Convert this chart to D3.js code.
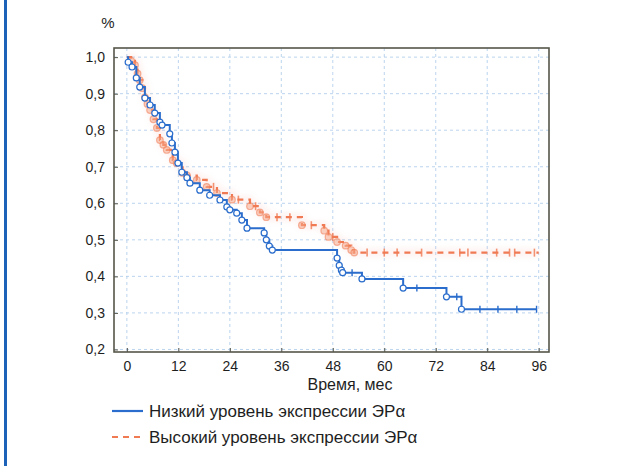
<!DOCTYPE html>
<html>
<head>
<meta charset="utf-8">
<script src="https://cdn.jsdelivr.net/npm/d3@7"></script>
<style>
  body { margin: 0; background: #fff; }
  svg { display: block; font-family: "Liberation Sans", Arial, sans-serif; }
</style>
</head>
<body>
<div id="canvas"></div>
<script>
// survival curves: [month, survival after the step]
let lowSteps = [
  [0, 1.0], [0.3, 0.986], [1.2, 0.973], [2.2, 0.943], [3, 0.918], [4.2, 0.888],
  [5.4, 0.869], [6.5, 0.847], [7.7, 0.822], [8.2, 0.814], [10, 0.79], [10.5, 0.765],
  [11.2, 0.74], [11.9, 0.71], [12.8, 0.685], [14, 0.67], [14.7, 0.655], [17, 0.636],
  [19.3, 0.622], [21.7, 0.609], [23.3, 0.59], [24, 0.582], [25.6, 0.573], [26.8, 0.554],
  [28, 0.532], [32, 0.519], [32.5, 0.5], [33.2, 0.483], [33.9, 0.472], [49, 0.45],
  [49.5, 0.43], [50, 0.417], [50.3, 0.41], [54.8, 0.393], [64.4, 0.368], [74.5, 0.344],
  [78, 0.31]
]
let lowCensored = [52.5, 67.6, 76.9, 82.3, 86.5, 90.9, 95.5]
let lowEnd = 95.5

let highSteps = [
  [0, 1.0], [1, 0.99], [1.9, 0.978], [2.5, 0.955], [3, 0.937], [3.6, 0.915],
  [4.2, 0.89], [4.8, 0.872], [5.4, 0.855], [6.2, 0.83], [7, 0.806], [7.7, 0.773],
  [8.5, 0.76], [9.3, 0.746], [10.7, 0.718], [11.6, 0.71], [13, 0.683], [14, 0.676],
  [16.3, 0.664], [18.6, 0.645], [21, 0.628], [24.5, 0.61], [28.7, 0.592], [31, 0.575],
  [32.5, 0.562], [40.8, 0.54], [46, 0.525], [47, 0.508], [49, 0.494], [51, 0.484],
  [52.3, 0.472], [53, 0.465]
]
let highCensored = [20.2, 26, 30, 35, 38, 43, 48, 56, 60, 63, 68.7, 77.6, 79.5, 86.2, 89.2, 90.4, 95]
let highEnd = 96

let xTicks = [0, 12, 24, 36, 48, 60, 72, 84, 96]
let yTicks = [0.2, 0.3, 0.4, 0.5, 0.6, 0.7, 0.8, 0.9, 1.0]
let xTitle = "Время, мес"
let yUnit = "%"
let legendLabels = ["Низкий уровень экспрессии ЭРα", "Высокий уровень экспрессии ЭРα"]

let svg = {}
let x, y

let blue = "#2a6dcc"
let orange = "#f07a52"
let ink = "#1e1e1e"

window.onload = function () { setup() }

function setup() {
  setupSVGCanvas()
  setupScales()
  drawGrid()
  drawCurve(highSteps, highEnd, highCensored, "high")
  drawCurve(lowSteps, lowEnd, lowCensored, "low")
  drawFrame()
  drawAxes()
  drawLegend()
}

function setupSVGCanvas() {
  svg = d3.select("#canvas")
    .append("svg")
    .attr("width", 633)
    .attr("height", 466)

  let defs = svg.append("defs")
  defs.append("filter").attr("id", "soft")
    .append("feGaussianBlur").attr("stdDeviation", 0.6)
  defs.append("filter").attr("id", "halo")
    .attr("x", "-20%").attr("y", "-20%").attr("width", "140%").attr("height", "140%")
    .append("feGaussianBlur").attr("stdDeviation", 3)

  // page border on the left
  svg.append("line")
    .attr("x1", 5.5).attr("x2", 5.5)
    .attr("y1", 0).attr("y2", 466)
    .attr("stroke", "#1b62b8")
    .attr("stroke-width", 3)
}

function setupScales() {
  x = d3.scaleLinear().domain([-3, 98.4]).range([114, 549])
  y = d3.scaleLinear().domain([0.193, 1.025]).range([352, 48])
}

function drawGrid() {
  let grid = svg.append("g")
    .attr("stroke", "#a9c9ea")
    .attr("stroke-width", 0.8)
    .attr("stroke-dasharray", "3,3")

  grid.selectAll(".gx")
    .data(xTicks)
    .join("line")
    .attr("x1", d => x(d)).attr("x2", d => x(d))
    .attr("y1", y.range()[1]).attr("y2", y.range()[0])

  grid.selectAll(".gy")
    .data(yTicks)
    .join("line")
    .attr("x1", x.range()[0]).attr("x2", x.range()[1])
    .attr("y1", d => y(d)).attr("y2", d => y(d))
}

function valueAt(steps, t) {
  let v = steps[0][1]
  steps.forEach(s => { if (s[0] <= t) v = s[1] })
  return v
}

function drawCurve(steps, end, censored, kind) {
  let pts = steps.concat([[end, steps[steps.length - 1][1]]])
  let line = d3.line()
    .x(d => x(d[0]))
    .y(d => y(d[1]))
    .curve(d3.curveStepAfter)

  let events = steps.slice(1)
  let g = svg.append("g")

  if (kind == "low") {
    g.append("path")
      .attr("d", line(pts))
      .attr("fill", "none")
      .attr("stroke", blue)
      .attr("stroke-width", 2)

    g.selectAll(".cens")
      .data(censored)
      .join("line")
      .attr("x1", d => x(d)).attr("x2", d => x(d))
      .attr("y1", d => y(valueAt(steps, d)) - 3.5)
      .attr("y2", d => y(valueAt(steps, d)) + 3.5)
      .attr("stroke", blue)
      .attr("stroke-width", 1.4)

    g.selectAll("circle")
      .data(events)
      .join("circle")
      .attr("cx", d => x(d[0]))
      .attr("cy", d => y(d[1]))
      .attr("r", 3)
      .attr("fill", "#fff")
      .attr("stroke", blue)
      .attr("stroke-width", 1.2)
  } else {
    // faint pink haze round the dashed curve
    let halo = g.append("g").attr("filter", "url(#halo)").attr("opacity", 0.14)
    halo.append("path")
      .attr("d", line(pts))
      .attr("fill", "none")
      .attr("stroke", "#f39a90")
      .attr("stroke-width", 7)

    let sharp = g.append("g").attr("filter", "url(#soft)")
    sharp.append("path")
      .attr("d", line(pts))
      .attr("fill", "none")
      .attr("stroke", orange)
      .attr("stroke-width", 2.2)
      .attr("stroke-dasharray", "6,5")

    sharp.selectAll(".cens")
      .data(censored)
      .join("line")
      .attr("x1", d => x(d)).attr("x2", d => x(d))
      .attr("y1", d => y(valueAt(steps, d)) - 4)
      .attr("y2", d => y(valueAt(steps, d)) + 4)
      .attr("stroke", orange)
      .attr("stroke-width", 1.6)
      .attr("opacity", 0.8)

    sharp.selectAll("circle")
      .data(events)
      .join("circle")
      .attr("cx", d => x(d[0]))
      .attr("cy", d => y(d[1]))
      .attr("r", 3.3)
      .attr("fill", "#f6a88a")
      .attr("fill-opacity", 0.5)
      .attr("stroke", orange)
      .attr("stroke-opacity", 0.55)
      .attr("stroke-width", 1.2)
  }
}

function drawFrame() {
  svg.append("rect")
    .attr("x", x.range()[0])
    .attr("y", y.range()[1])
    .attr("width", x.range()[1] - x.range()[0])
    .attr("height", y.range()[0] - y.range()[1])
    .attr("fill", "none")
    .attr("stroke", "#57564a")
    .attr("stroke-width", 1.6)
}

function drawAxes() {
  let xAxis = d3.axisBottom(x)
    .tickValues(xTicks)
    .tickSize(-4)
    .tickPadding(9)
    .tickFormat(d3.format("d"))

  let gx = svg.append("g")
    .attr("transform", `translate(0,${y.range()[0]})`)
    .call(xAxis)
  gx.select(".domain").remove()
  gx.selectAll("line").attr("stroke", "#57564a")
  gx.selectAll("text")
    .attr("font-size", 14)
    .attr("fill", ink)

  let yAxis = d3.axisLeft(y)
    .tickValues(yTicks)
    .tickSize(-4)
    .tickPadding(9)
    .tickFormat(d => d3.format(".1f")(d).replace(".", ","))

  let gy = svg.append("g")
    .attr("transform", `translate(${x.range()[0]},0)`)
    .call(yAxis)
  gy.select(".domain").remove()
  gy.selectAll("line").attr("stroke", "#57564a")
  gy.selectAll("text")
    .attr("font-size", 14)
    .attr("fill", ink)

  svg.append("text")
    .attr("x", 108)
    .attr("y", 28)
    .attr("text-anchor", "middle")
    .attr("font-size", 15)
    .attr("fill", ink)
    .text(yUnit)

  svg.append("text")
    .attr("x", 350)
    .attr("y", 390)
    .attr("text-anchor", "middle")
    .attr("font-size", 16)
    .attr("fill", ink)
    .text(xTitle)
}

function drawLegend() {
  let rows = [
    { label: legendLabels[0], color: blue, dash: null, y: 411 },
    { label: legendLabels[1], color: orange, dash: "6,5", y: 437 }
  ]

  let g = svg.append("g")
  let row = g.selectAll("g")
    .data(rows)
    .join("g")
    .attr("transform", d => `translate(0,${d.y})`)

  row.append("line")
    .attr("x1", 112).attr("x2", 143)
    .attr("y1", 0).attr("y2", 0)
    .attr("stroke", d => d.color)
    .attr("stroke-width", 2.2)
    .attr("stroke-dasharray", d => d.dash)

  row.append("text")
    .attr("x", 149)
    .attr("y", 6)
    .attr("font-size", 17)
    .attr("fill", ink)
    .text(d => d.label)
}
</script>
</body>
</html>
